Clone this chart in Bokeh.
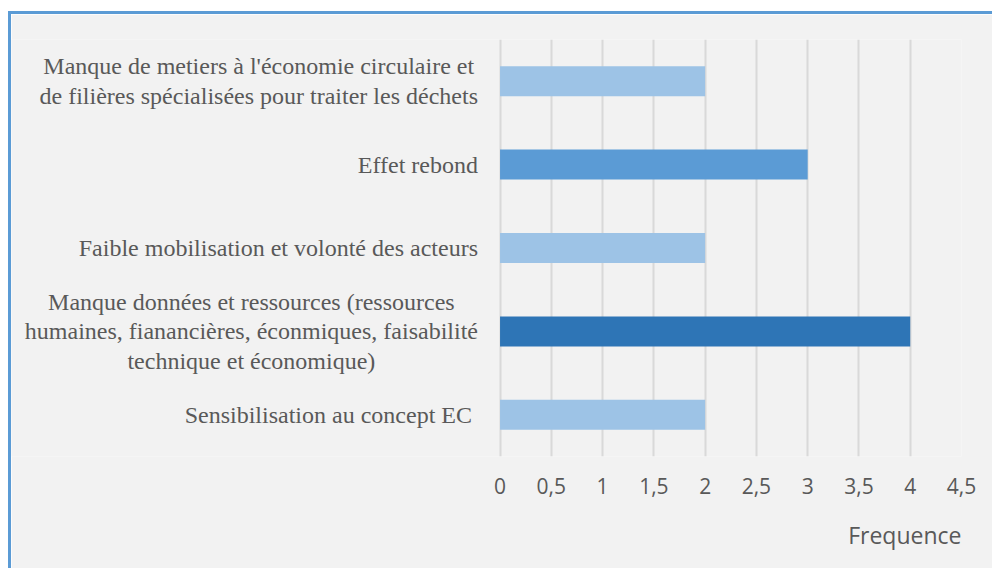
from bokeh.plotting import figure
from bokeh.models import Range1d, FixedTicker, Title, ColumnDataSource
from bokeh.core.properties import value
from bokeh.embed import file_html
from bokeh.resources import INLINE

# Data (top to bottom as in the chart)
categories = [
    "Manque de metiers à l'économie circulaire et\nde filières spécialisées pour traiter les déchets",
    "Effet rebond",
    "Faible mobilisation et volonté des acteurs",
    "Manque données et ressources (ressources\nhumaines, fianancières, éconmiques, faisabilité\ntechnique et économique)",
    "Sensibilisation au  concept EC",
]
frequences = [2, 3, 2, 4, 2]
bar_colors = ["#9dc3e6", "#5b9bd5", "#9dc3e6", "#2e75b6", "#9dc3e6"]
tick_values = [0, 0.5, 1, 1.5, 2, 2.5, 3, 3.5, 4, 4.5]
tick_labels = ["0", "0,5", "1", "1,5", "2", "2,5", "3", "3,5", "4", "4,5"]
x_label = "Frequence"

n = len(categories)
ypos = [n - 1 - i for i in range(n)]

BG = "#f2f2f2"
TXT = "#595959"

# layout (pixels)
W, H = 984, 557
BORDER = 3
LABEL_AREA = 487      # px from canvas left to value 0
PLOT_W = 460          # px from 0 to 4.5
RIGHT = W - BORDER - LABEL_AREA - PLOT_W
LABEL_GAP = 22        # px between label block and value 0

xmax = tick_values[-1]
px_per_unit = PLOT_W / xmax
xmin = -LABEL_AREA / px_per_unit
label_x = -LABEL_GAP / px_per_unit

p = figure(
    width=W, height=H,
    x_range=Range1d(xmin, xmax), y_range=Range1d(-0.5, n - 0.5),
    output_backend="svg", toolbar_location=None,
    min_border=0, min_border_left=0, min_border_right=RIGHT, min_border_top=25, min_border_bottom=115,
    background_fill_color=BG, border_fill_color=BG,
    styles={"margin-left": "8px", "margin-top": "11px",
            "border-left": f"{BORDER}px solid #5b9bd5", "border-top": f"{BORDER}px solid #5b9bd5"},
)
p.outline_line_color = None

p.hbar(y=ypos, right=frequences, left=0, height=0.36, fill_color=bar_colors, line_color=None)

src = ColumnDataSource(dict(x=[label_x] * n, y=ypos, text=categories))
p.text(x="x", y="y", text="text", source=src,
       anchor=value("center_right"), text_align="center", text_baseline="middle",
       text_font=value("Liberation Serif"), text_font_size="24px", text_color=TXT,
       text_line_height=1.15)

p.xaxis.ticker = FixedTicker(ticks=tick_values)
p.xaxis.major_label_overrides = {v: l for v, l in zip(tick_values, tick_labels)}
p.xaxis.axis_line_color = None
p.xaxis.major_tick_line_color = None
p.xaxis.minor_tick_line_color = None
p.xaxis.major_tick_out = 0
p.xaxis.major_label_standoff = 21
p.xaxis.major_label_text_font = "Open Sans"
p.xaxis.major_label_text_font_size = "21px"
p.xaxis.major_label_text_color = TXT

p.yaxis.visible = False
p.ygrid.grid_line_color = None
p.xgrid.ticker = FixedTicker(ticks=tick_values)
p.xgrid.grid_line_color = "#d9d9d9"
p.xgrid.grid_line_width = 2

t = Title(text=x_label, align="right", text_font="Open Sans", text_font_size="23px",
          text_color=TXT, text_font_style="normal", standoff=41)
p.add_layout(t, "below")

open("out.html", "w").write(file_html(p, INLINE))
